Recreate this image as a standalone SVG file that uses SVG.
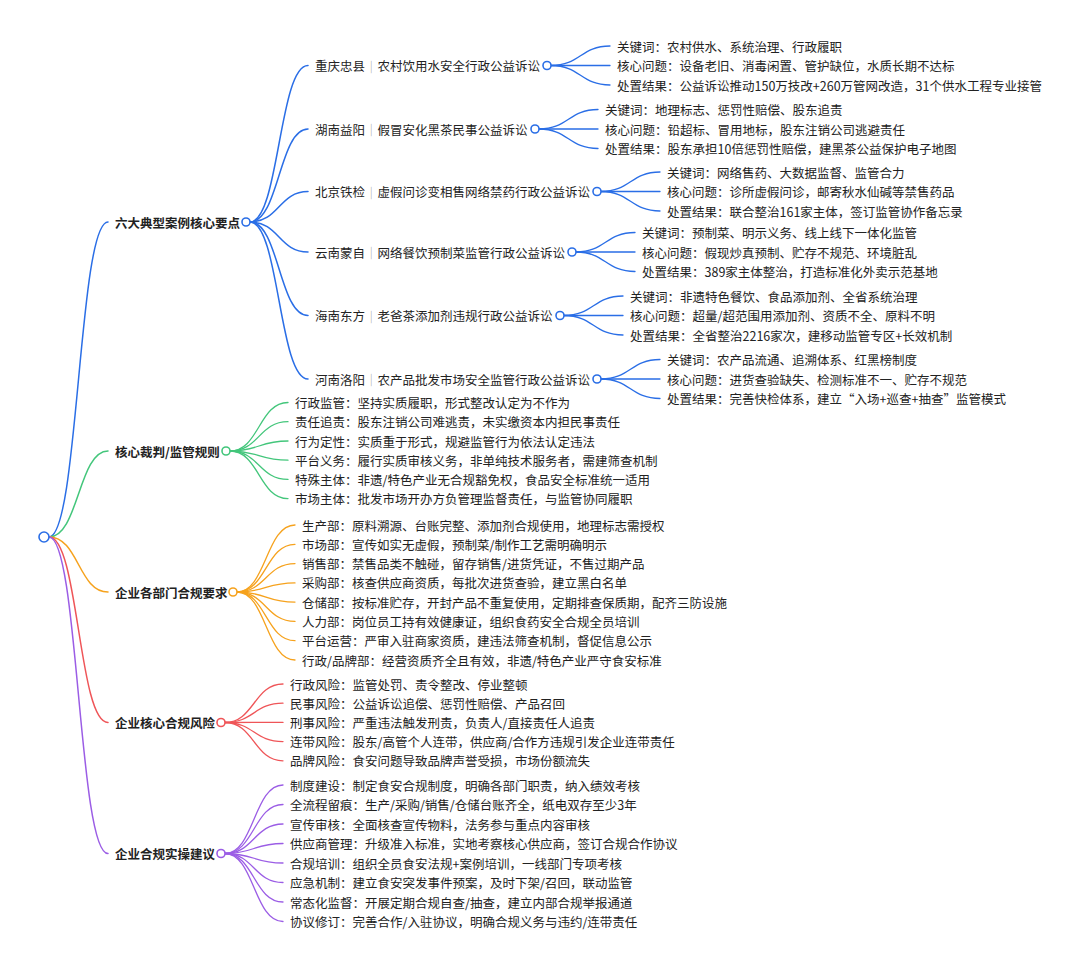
<svg xmlns="http://www.w3.org/2000/svg" width="1080" height="967" viewBox="0 0 1080 967">
<style>
text{font-family:"Noto Sans CJK SC","Noto Sans",sans-serif;font-size:12.5px;fill:#222;dominant-baseline:central}
.l1{font-weight:bold}
.sep{fill:#aaa}
path{fill:none;stroke-linecap:round}
.b{stroke:#2a6ee6}.g{stroke:#43c67b}.o{stroke:#f6a21d}.r{stroke:#ef5558}.p{stroke:#9b5de5}
.main path{stroke-width:1.5}
.leaf path{stroke-width:1.3}
circle{fill:#fff;stroke-width:1.6}
</style>
<rect width="1080" height="967" fill="#fff"/>
<g id="connectors">
<g class="main">
<path class="b" d="M49 537 C78.5 537 78.5 222 108 222"/>
<path class="g" d="M49 537 C78.5 537 78.5 451 108 451"/>
<path class="o" d="M49 537 C78.5 537 78.5 592 108 592"/>
<path class="r" d="M49 537 C78.5 537 78.5 722.5 108 722.5"/>
<path class="p" d="M49 537 C78.5 537 78.5 853.5 108 853.5"/>
<path class="b" d="M250 222 C279 222 279 65.5 308 65.5"/>
<path class="b" d="M250 222 C279 222 279 129 308 129"/>
<path class="b" d="M250 222 C279 222 279 191.5 308 191.5"/>
<path class="b" d="M250 222 C279 222 279 252 308 252"/>
<path class="b" d="M250 222 C279 222 279 315.5 308 315.5"/>
<path class="b" d="M250 222 C279 222 279 379 308 379"/>
</g>
<g class="leaf">
<path class="b" d="M551 65.5 C580.5 65.5 580.5 46 610 46"/>
<path class="b" d="M551 65.5 L610 65.5"/>
<path class="b" d="M551 65.5 C580.5 65.5 580.5 85 610 85"/>
<path class="b" d="M539 129 C568.5 129 568.5 109.5 598 109.5"/>
<path class="b" d="M539 129 L598 129"/>
<path class="b" d="M539 129 C568.5 129 568.5 148.5 598 148.5"/>
<path class="b" d="M601 191.5 C630.5 191.5 630.5 172 660 172"/>
<path class="b" d="M601 191.5 L660 191.5"/>
<path class="b" d="M601 191.5 C630.5 191.5 630.5 211 660 211"/>
<path class="b" d="M576 252 C605.5 252 605.5 232.5 635 232.5"/>
<path class="b" d="M576 252 L635 252"/>
<path class="b" d="M576 252 C605.5 252 605.5 271.5 635 271.5"/>
<path class="b" d="M564 315.5 C593.5 315.5 593.5 296 623 296"/>
<path class="b" d="M564 315.5 L623 315.5"/>
<path class="b" d="M564 315.5 C593.5 315.5 593.5 335 623 335"/>
<path class="b" d="M601 379 C630.5 379 630.5 359.5 660 359.5"/>
<path class="b" d="M601 379 L660 379"/>
<path class="b" d="M601 379 C630.5 379 630.5 398.5 660 398.5"/>
<path class="g" d="M230 451 C259 451 259 402.5 288 402.5"/>
<path class="g" d="M230 451 C259 451 259 421.7 288 421.7"/>
<path class="g" d="M230 451 C259 451 259 441 288 441"/>
<path class="g" d="M230 451 C259 451 259 460.2 288 460.2"/>
<path class="g" d="M230 451 C259 451 259 479.4 288 479.4"/>
<path class="g" d="M230 451 C259 451 259 498.6 288 498.6"/>
<path class="o" d="M237 592 C266 592 266 525 295 525"/>
<path class="o" d="M237 592 C266 592 266 544.3 295 544.3"/>
<path class="o" d="M237 592 C266 592 266 563.6 295 563.6"/>
<path class="o" d="M237 592 C266 592 266 582.9 295 582.9"/>
<path class="o" d="M237 592 C266 592 266 602.1 295 602.1"/>
<path class="o" d="M237 592 C266 592 266 621.4 295 621.4"/>
<path class="o" d="M237 592 C266 592 266 640.7 295 640.7"/>
<path class="o" d="M237 592 C266 592 266 660 295 660"/>
<path class="r" d="M225 722.5 C254 722.5 254 684 283 684"/>
<path class="r" d="M225 722.5 C254 722.5 254 703.2 283 703.2"/>
<path class="r" d="M225 722.5 C254 722.5 254 722.4 283 722.4"/>
<path class="r" d="M225 722.5 C254 722.5 254 741.6 283 741.6"/>
<path class="r" d="M225 722.5 C254 722.5 254 760.8 283 760.8"/>
<path class="p" d="M225 853.5 C254 853.5 254 785 283 785"/>
<path class="p" d="M225 853.5 C254 853.5 254 804.5 283 804.5"/>
<path class="p" d="M225 853.5 C254 853.5 254 824 283 824"/>
<path class="p" d="M225 853.5 C254 853.5 254 843.5 283 843.5"/>
<path class="p" d="M225 853.5 C254 853.5 254 863 283 863"/>
<path class="p" d="M225 853.5 C254 853.5 254 882.5 283 882.5"/>
<path class="p" d="M225 853.5 C254 853.5 254 902 283 902"/>
<path class="p" d="M225 853.5 C254 853.5 254 921.5 283 921.5"/>
</g>
</g>
<g id="root"><circle class="b" cx="44" cy="537" r="5" stroke="#2a6ee6"/></g>

<g id="n-cases">
<text class="l1" x="115" y="222">六大典型案例核心要点</text>
<circle cx="246" cy="222" r="4" stroke="#2a6ee6"/>
</g>
<g id="n-case1">
<text x="315" y="65.5">重庆忠县<tspan class="sep">｜</tspan>农村饮用水安全行政公益诉讼</text>
<circle cx="547" cy="65.5" r="4" stroke="#2a6ee6"/>
<text x="617" y="46">关键词：农村供水、系统治理、行政履职</text>
<text x="617" y="65.5">核心问题：设备老旧、消毒闲置、管护缺位，水质长期不达标</text>
<text x="617" y="85">处置结果：公益诉讼推动150万技改+260万管网改造，31个供水工程专业接管</text>
</g>
<g id="n-case2">
<text x="315" y="129">湖南益阳<tspan class="sep">｜</tspan>假冒安化黑茶民事公益诉讼</text>
<circle cx="535" cy="129" r="4" stroke="#2a6ee6"/>
<text x="605" y="109.5">关键词：地理标志、惩罚性赔偿、股东追责</text>
<text x="605" y="129">核心问题：铅超标、冒用地标，股东注销公司逃避责任</text>
<text x="605" y="148.5">处置结果：股东承担10倍惩罚性赔偿，建黑茶公益保护电子地图</text>
</g>
<g id="n-case3">
<text x="315" y="191.5">北京铁检<tspan class="sep">｜</tspan>虚假问诊变相售网络禁药行政公益诉讼</text>
<circle cx="597" cy="191.5" r="4" stroke="#2a6ee6"/>
<text x="667" y="172">关键词：网络售药、大数据监督、监管合力</text>
<text x="667" y="191.5">核心问题：诊所虚假问诊，邮寄秋水仙碱等禁售药品</text>
<text x="667" y="211">处置结果：联合整治161家主体，签订监管协作备忘录</text>
</g>
<g id="n-case4">
<text x="315" y="252">云南蒙自<tspan class="sep">｜</tspan>网络餐饮预制菜监管行政公益诉讼</text>
<circle cx="572" cy="252" r="4" stroke="#2a6ee6"/>
<text x="642" y="232.5">关键词：预制菜、明示义务、线上线下一体化监管</text>
<text x="642" y="252">核心问题：假现炒真预制、贮存不规范、环境脏乱</text>
<text x="642" y="271.5">处置结果：389家主体整治，打造标准化外卖示范基地</text>
</g>
<g id="n-case5">
<text x="315" y="315.5">海南东方<tspan class="sep">｜</tspan>老爸茶添加剂违规行政公益诉讼</text>
<circle cx="560" cy="315.5" r="4" stroke="#2a6ee6"/>
<text x="630" y="296">关键词：非遗特色餐饮、食品添加剂、全省系统治理</text>
<text x="630" y="315.5">核心问题：超量/超范围用添加剂、资质不全、原料不明</text>
<text x="630" y="335">处置结果：全省整治2216家次，建移动监管专区+长效机制</text>
</g>
<g id="n-case6">
<text x="315" y="379">河南洛阳<tspan class="sep">｜</tspan>农产品批发市场安全监管行政公益诉讼</text>
<circle cx="597" cy="379" r="4" stroke="#2a6ee6"/>
<text x="667" y="359.5">关键词：农产品流通、追溯体系、红黑榜制度</text>
<text x="667" y="379">核心问题：进货查验缺失、检测标准不一、贮存不规范</text>
<text x="667" y="398.5">处置结果：完善快检体系，建立“入场+巡查+抽查”监管模式</text>
</g>

<g id="n-rules">
<text class="l1" x="115" y="451">核心裁判/监管规则</text>
<circle cx="226" cy="451" r="4" stroke="#43c67b"/>
<text x="295" y="402.5">行政监管：坚持实质履职，形式整改认定为不作为</text>
<text x="295" y="421.7">责任追责：股东注销公司难逃责，未实缴资本内担民事责任</text>
<text x="295" y="441">行为定性：实质重于形式，规避监管行为依法认定违法</text>
<text x="295" y="460.2">平台义务：履行实质审核义务，非单纯技术服务者，需建筛查机制</text>
<text x="295" y="479.4">特殊主体：非遗/特色产业无合规豁免权，食品安全标准统一适用</text>
<text x="295" y="498.6">市场主体：批发市场开办方负管理监督责任，与监管协同履职</text>
</g>

<g id="n-depts">
<text class="l1" x="115" y="592">企业各部门合规要求</text>
<circle cx="233" cy="592" r="4" stroke="#f6a21d"/>
<text x="302" y="525">生产部：原料溯源、台账完整、添加剂合规使用，地理标志需授权</text>
<text x="302" y="544.3">市场部：宣传如实无虚假，预制菜/制作工艺需明确明示</text>
<text x="302" y="563.6">销售部：禁售品类不触碰，留存销售/进货凭证，不售过期产品</text>
<text x="302" y="582.9">采购部：核查供应商资质，每批次进货查验，建立黑白名单</text>
<text x="302" y="602.1">仓储部：按标准贮存，开封产品不重复使用，定期排查保质期，配齐三防设施</text>
<text x="302" y="621.4">人力部：岗位员工持有效健康证，组织食药安全合规全员培训</text>
<text x="302" y="640.7">平台运营：严审入驻商家资质，建违法筛查机制，督促信息公示</text>
<text x="302" y="660">行政/品牌部：经营资质齐全且有效，非遗/特色产业严守食安标准</text>
</g>

<g id="n-risks">
<text class="l1" x="115" y="722.5">企业核心合规风险</text>
<circle cx="221" cy="722.5" r="4" stroke="#ef5558"/>
<text x="290" y="684">行政风险：监管处罚、责令整改、停业整顿</text>
<text x="290" y="703.2">民事风险：公益诉讼追偿、惩罚性赔偿、产品召回</text>
<text x="290" y="722.4">刑事风险：严重违法触发刑责，负责人/直接责任人追责</text>
<text x="290" y="741.6">连带风险：股东/高管个人连带，供应商/合作方违规引发企业连带责任</text>
<text x="290" y="760.8">品牌风险：食安问题导致品牌声誉受损，市场份额流失</text>
</g>

<g id="n-advice">
<text class="l1" x="115" y="853.5">企业合规实操建议</text>
<circle cx="221" cy="853.5" r="4" stroke="#9b5de5"/>
<text x="290" y="785">制度建设：制定食安合规制度，明确各部门职责，纳入绩效考核</text>
<text x="290" y="804.5">全流程留痕：生产/采购/销售/仓储台账齐全，纸电双存至少3年</text>
<text x="290" y="824">宣传审核：全面核查宣传物料，法务参与重点内容审核</text>
<text x="290" y="843.5">供应商管理：升级准入标准，实地考察核心供应商，签订合规合作协议</text>
<text x="290" y="863">合规培训：组织全员食安法规+案例培训，一线部门专项考核</text>
<text x="290" y="882.5">应急机制：建立食安突发事件预案，及时下架/召回，联动监管</text>
<text x="290" y="902">常态化监督：开展定期合规自查/抽查，建立内部合规举报通道</text>
<text x="290" y="921.5">协议修订：完善合作/入驻协议，明确合规义务与违约/连带责任</text>
</g>
</svg>
